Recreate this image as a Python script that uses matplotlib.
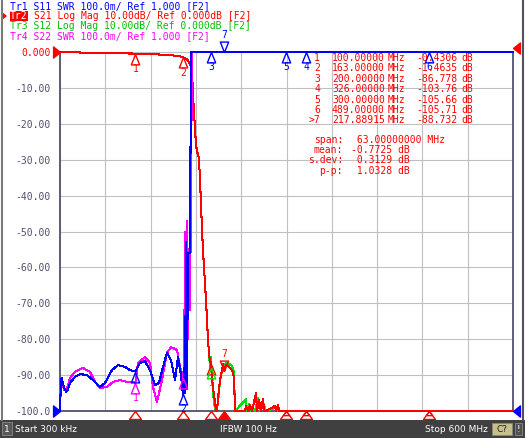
import numpy as np
import matplotlib
matplotlib.use("Agg")
import matplotlib.pyplot as plt
from matplotlib.path import Path
from matplotlib.patches import Rectangle

# ---- data ----
f_start, f_stop = 0.3, 600.0          # MHz

# Tr2 S21 log mag (dB)
s21_mhz = [0.3, 20, 45, 60, 100, 115, 125, 141.9, 152, 160, 163.1, 168.4, 172.0, 173.7,
           175.0, 176.4, 177.7, 179.0, 180.3, 182.9, 184.3, 185.6, 186.9, 188.3, 189.6,
           191.0, 193.6, 196.2, 198.0, 200.0, 202.8, 205.5, 206.8, 208.1, 209.5, 212.1,
           214.8, 216.1, 217.9, 219.5, 220.1, 224.1, 228.0, 230.6, 232.0,
           245.2, 246.5, 249.2, 251.8, 254.5, 259.8, 261.1, 263.7, 266.4, 269.0, 270.4,
           273.0, 284.9, 286.3, 288.9, 290.2, 300, 326, 400, 489, 550, 600]
s21_db = [-0.05, -0.1, -0.25, -0.35, -0.43, -0.5, -0.6, -0.85, -1.0, -1.25, -1.46, -2.0, -3.1, -4.0,
          -5.0, -12.0, -17.0, -21.0, -26.0, -28.7, -29.5, -35.7, -41.8, -49.6, -55.2,
          -60.2, -69.1, -80.2, -85.0, -86.8, -93.6, -97.5, -101.0, -104.0, -96.4, -91.4,
          -88.6, -87.0, -88.7, -87.5, -87.2, -87.7, -88.6, -90.5, -106.0,
          -104.0, -98.6, -104.0, -98.3, -104.0, -95.0, -102.0, -96.9, -103.0, -96.6, -103.0,
          -104.0, -98.6, -103.0, -98.3, -104.0, -105.66, -103.76, -106.0, -105.71, -106.0, -106.0]

# Tr3 S12 log mag (dB) - same as S21 through the pass band and skirt
s12_mhz = [0.3, 20, 45, 60, 100, 115, 125, 141.9, 152, 160, 163.1, 168.4, 172.0, 173.7,
           175.0, 176.4, 177.7, 179.0, 180.3, 182.9, 184.3, 185.6, 186.9, 188.3, 189.6,
           191.0, 193.6, 196.2, 197.6, 198.9, 200.2,
           201.5, 204.2, 206.8, 209.5, 210.8, 213.4, 217.4, 220.1, 224.1, 228.0, 230.6, 232.0,
           246.5, 247.8, 250.5, 253.1, 255.8, 258.4, 262.4, 265.1, 269.0, 273.0,
           286.3, 288.9, 300, 400, 600]
s12_db = [-0.05, -0.1, -0.25, -0.35, -0.43, -0.5, -0.6, -0.85, -1.0, -1.25, -1.46, -2.0, -3.1, -4.0,
          -5.0, -12.0, -17.0, -21.0, -26.0, -28.7, -29.5, -35.7, -41.8, -49.6, -55.2,
          -60.2, -69.1, -80.2, -84.0, -88.0, -85.0,
          -91.0, -98.0, -103.0, -98.0, -94.0, -90.0, -88.0, -86.5, -86.8, -87.5, -89.0, -107.0,
          -96.7, -103.0, -98.0, -104.0, -99.0, -103.0, -96.4, -101.0, -97.5, -104.0,
          -99.0, -102.0, -106.0, -106.0, -106.0]

# Tr1 S11 SWR
s11_mhz = [0.3, 1.6, 2.9, 4.2, 5.6, 8.2, 10.9, 13.5, 20.2, 26.8, 36.0, 44.0, 53.3, 59.9,
           69.1, 77.1, 86.3, 93.0, 100.0, 106.2, 112.8, 119.4, 126.1, 131.4, 136.7, 141.9,
           147.2, 152.5, 156.5, 160.5, 163.1, 164.5, 165.8, 167.1, 168.4, 169.7, 171.1,
           172.4, 173.7, 190, 250, 350, 450, 600]
s11_swr = [1.00, 1.089, 1.092, 1.075, 1.067, 1.053, 1.060, 1.078, 1.095, 1.103, 1.100, 1.086,
           1.067, 1.078, 1.114, 1.128, 1.123, 1.114, 1.110, 1.134, 1.139, 1.114, 1.072, 1.078,
           1.123, 1.162, 1.142, 1.086, 1.150, 1.100, 1.045, 1.12, 1.05, 1.47, 1.06, 1.44,
           1.44, 1.44, 2.7, 12.0, 35.0, 50.0, 60.0, 70.0]

# Tr4 S22 SWR
s22_mhz = [0.3, 1.6, 2.9, 5.6, 8.2, 10.9, 13.5, 20.2, 30.7, 40.0, 46.6, 53.3, 62.5, 70.5,
           79.7, 89.0, 96.9, 100.0, 103.6, 112.8, 119.4, 123.4, 128.7, 135.3, 141.9, 147.2,
           155.2, 159.2, 161.8, 163.1, 164.5, 165.8, 167.1, 168.4, 169.7, 171.1, 172.4,
           173.7, 175.0, 190, 250, 350, 450, 600]
s22_swr = [1.00, 1.080, 1.081, 1.060, 1.058, 1.070, 1.092, 1.109, 1.120, 1.109, 1.081, 1.064,
           1.067, 1.081, 1.086, 1.081, 1.081, 1.078, 1.134, 1.150, 1.134, 1.067, 1.025, 1.086,
           1.162, 1.178, 1.170, 1.123, 1.106, 1.09, 1.07, 1.50, 1.10, 1.53, 1.20, 1.45,
           1.28, 1.61, 2.7, 12.0, 30.0, 45.0, 55.0, 65.0]

# marker readout (Tr2)
mk_num = ["1", "2", "3", "4", "5", "6", ">7"]
mk_mhz = [100.0, 163.0, 200.0, 326.0, 300.0, 489.0, 217.88915]
mk_db = [-0.4306, -1.4635, -86.778, -103.76, -105.66, -105.71, -88.732]
mk_db_txt = ["-0.4306", "-1.4635", "-86.778", "-103.76", "-105.66", "-105.71", "-88.732"]
stat_lbl = ["span:", "mean:", "s.dev:", "p-p:"]
stat_val = [" 63.00000000 MHz", "-0.7725 dB", " 0.3129 dB", " 1.0328 dB"]

header = ["Tr1 S11 SWR 100.0m/ Ref 1.000 [F2]",
          "S21 Log Mag 10.00dB/ Ref 0.000dB [F2]",
          "Tr3 S12 Log Mag 10.00dB/ Ref 0.000dB [F2]",
          "Tr4 S22 SWR 100.0m/ Ref 1.000 [F2]"]
yticks = list(range(0, -101, -10))
ylabels = ["0.000"] + ["%.2f" % v for v in yticks[1:-1]] + ["-100.0"]

BLUE, RED, GREEN, MAG = "#0000ff", "#ff0000", "#00e000", "#ff00ff"
MONO = "DejaVu Sans Mono"
W, H = 525, 438
LW = 0.75

def ftext(x, y, s, **kw):
    # text placed in screen pixels
    fig.text(x / W, 1 - y / H, s, **kw)

def tri(verts):
    return Path(verts + [verts[0]], [Path.MOVETO, Path.LINETO, Path.LINETO, Path.CLOSEPOLY])

up_m = tri([(0, 0), (-0.4, -1), (0.4, -1)])
down_m = tri([(0, 0), (-0.4, 1), (0.4, 1)])
stim_m = tri([(0, 0), (-0.75, -1), (0.75, -1)])
right_m = tri([(0, 0), (-1, 0.8), (-1, -0.8)])
left_m = tri([(0, 0), (1, 0.8), (1, -0.8)])

fig = plt.figure(figsize=(5.25, 4.38), dpi=100, facecolor="white")
ax = fig.add_axes([60 / W, 1 - 411 / H, 453 / W, 359 / H])
ax.set_xlim(f_start, f_stop)
ax.set_ylim(-100, 0)
ax.set_xticks(np.linspace(f_start, f_stop, 11))
ax.set_yticks(yticks)
ax.set_yticklabels(ylabels, family=MONO, fontsize=7, color="#50506e")
ax.get_yticklabels()[0].set_color(RED)
ax.tick_params(length=0, labelbottom=False, pad=7)
ax.grid(True, color="#c0c0c0", lw=0.8)
ax.set_axisbelow(True)
ax.spines["top"].set_visible(False)
for s in ["left", "bottom", "right"]:
    ax.spines[s].set_color("#5c5c78")
    ax.spines[s].set_linewidth(1.4)

# log mag traces, held at the screen edges like the analyzer does
ax.plot(s12_mhz, np.clip(s12_db, -100, 0), color=GREEN, lw=LW, zorder=3, clip_on=False,
        antialiased=False)
ax.plot(s21_mhz, np.clip(s21_db, -100, 0), color=RED, lw=LW, zorder=4, clip_on=False,
        antialiased=False)

# SWR traces on their own scale: 1.000 at bottom, 100m/div
ax2 = ax.twinx()
ax2.set_ylim(1.0, 2.0)
ax2.set_yticks([])
for s in ax2.spines.values():
    s.set_visible(False)
ax2.plot(s22_mhz, np.clip(s22_swr, 1, 2), color=MAG, lw=LW, clip_on=False, antialiased=False)
ax2.plot(s11_mhz, np.clip(s11_swr, 1, 2), color=BLUE, lw=LW, clip_on=False, antialiased=False)

def marker(a, f, v, lbl, col, down=False):
    a.plot([f], [v], marker=down_m if down else up_m, ms=15, mfc="none", mec=col,
           mew=1.0, clip_on=False, zorder=6)
    if lbl:
        a.annotate(lbl, (f, v), xytext=(0, 12 if down else -11), textcoords="offset points",
                   ha="center", va="center", color=col, fontsize=7, family=MONO,
                   annotation_clip=False)

s11_at = lambda f: float(np.clip(np.interp(f, s11_mhz, s11_swr), 1, 2))
s22_at = lambda f: float(np.clip(np.interp(f, s22_mhz, s22_swr), 1, 2))

marker(ax, 100.0, mk_db[0], "1", RED)
marker(ax, 163.0, mk_db[1], "2", RED)
marker(ax, 200.0, mk_db[2], "", RED)
marker(ax, 200.0, -88.0, "3", GREEN)
marker(ax, mk_mhz[6], mk_db[6], "7", RED, down=True)
marker(ax2, 100.0, s22_at(100.0), "1", MAG)
marker(ax2, 163.0, s22_at(163.0), "", MAG)
marker(ax2, 100.0, s11_at(100.0), "", BLUE)
marker(ax2, 163.0, s11_at(163.0), "2", BLUE)
for f, n in zip([200.0, 326.0, 300.0, 489.0], ["3", "4", "5", "6"]):
    marker(ax2, f, s11_at(f), n, BLUE)
marker(ax2, mk_mhz[6], s11_at(mk_mhz[6]), "7", BLUE, down=True)

# stimulus markers under the grid
for f, n in zip(mk_mhz, mk_num):
    if n == ">7":
        ax.plot([f], [-100], marker=stim_m, ms=13, color=RED, clip_on=False, zorder=6)
    else:
        ax.plot([f], [-100], marker=stim_m, ms=11.5, mfc="none", mec=RED, mew=1.0,
                clip_on=False, zorder=6)
        if n in ("4", "5", "6"):
            ax.plot([f], [-100], marker=stim_m, ms=6, mfc="none", mec=RED, mew=1.0,
                    clip_on=False, zorder=6)

# reference arrows at the edges
ax.plot([f_start], [0], marker=right_m, ms=10, color=RED, clip_on=False, zorder=7)
ax.plot([f_start], [-100], marker=right_m, ms=10, color=BLUE, clip_on=False, zorder=7)
ax.plot([f_stop], [1], marker=left_m, ms=10, color=RED, clip_on=False, zorder=7)
ax.plot([f_stop], [-100], marker=left_m, ms=10, color=BLUE, clip_on=False, zorder=7)

# marker table
kw = dict(family=MONO, fontsize=7, color=RED, va="center")
for i, (n, f, v) in enumerate(zip(mk_num, mk_mhz, mk_db_txt)):
    y = 58 + 10.4 * i
    ftext(320, y, n, ha="right", **kw)
    ftext(332, y, "%.5f" % f, ha="left", **kw)
    ftext(388, y, "MHz", ha="left", **kw)
    ftext(416, y, v, ha="left", **kw)
    ftext(461, y, "dB", ha="left", **kw)
for i, (l, v) in enumerate(zip(stat_lbl, stat_val)):
    y = 140 + 10.2 * i
    ftext(343, y, l, ha="right", **kw)
    ftext(351, y, v, ha="left", **kw)

# channel header
hcol = [BLUE, RED, "#00c000", MAG]
for i, (s, c) in enumerate(zip(header, hcol)):
    ftext(33.5 if i == 1 else 10, 6 + 10 * i, s, family=MONO, fontsize=7, color=c, va="center")
fig.patches.append(Rectangle((9.5 / W, 1 - 21 / H), 18 / W, 10 / H, transform=fig.transFigure,
                             facecolor=RED, edgecolor="none", zorder=2))
ftext(10, 16, "Tr2", family=MONO, fontsize=7, color="white", va="center", zorder=3)
fig.patches.append(plt.Polygon([(1 / W, 1 - 11 / H), (1 / W, 1 - 21 / H), (7 / W, 1 - 16 / H)],
                               closed=True, transform=fig.transFigure, facecolor=RED,
                               edgecolor="none"))

# window edges and status bar
fig.add_artist(plt.Line2D([1.5 / W, 1.5 / W], [1 - 420 / H, 1], color="#7a7a7a", lw=1.5))
fig.add_artist(plt.Line2D([522.5 / W, 522.5 / W], [1 - 420 / H, 1], color="#50505e", lw=1.5))
fig.patches.append(Rectangle((0, 0), 1, 18.5 / H, transform=fig.transFigure,
                             facecolor="#404040", edgecolor="none"))
fig.patches.append(Rectangle((2 / W, 3 / H), 10 / W, 13 / H, transform=fig.transFigure,
                             facecolor="#585858", edgecolor="#8a8a8a", lw=0.6))
fig.patches.append(Rectangle((492 / W, 3 / H), 20 / W, 12 / H, transform=fig.transFigure,
                             facecolor="#c8c08c", edgecolor="#8a8a70", lw=0.6))
fig.patches.append(Rectangle((515 / W, 3 / H), 7 / W, 12 / H, transform=fig.transFigure,
                             facecolor="#505050", edgecolor="#8a8a8a", lw=0.6))
sb = dict(fontsize=6.5, color="white", va="center")
ftext(7, 429, "1", ha="center", **sb)
ftext(15, 429, "Start 300 kHz", ha="left", **sb)
ftext(248, 429, "IFBW 100 Hz", ha="center", **sb)
ftext(488, 429, "Stop 600 MHz", ha="right", **sb)
ftext(502, 429, "C?", ha="center", fontsize=6.5, color="#202020", va="center")
ftext(518.5, 429, "!", ha="center", **sb)

fig.savefig("out.png", dpi=100, facecolor="white")
